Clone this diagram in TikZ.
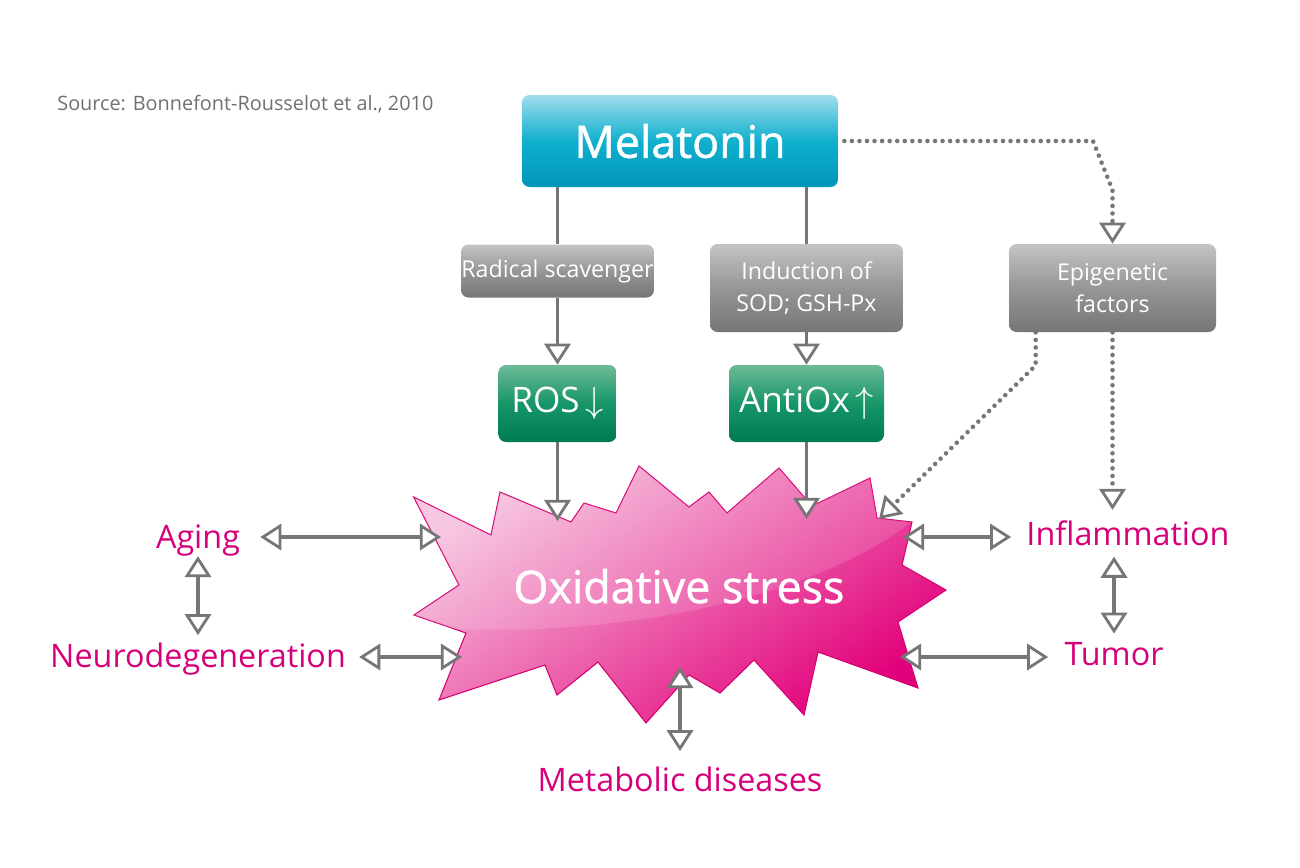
\documentclass[tikz,border=0pt]{standalone}
\usepackage{fontspec}
\setmainfont{Open Sans}
\newfontfamily\heavyfont[FakeBold=1.2]{Open Sans}
\usetikzlibrary{arrows.meta}
\definecolor{melTop}{RGB}{160,220,236}
\definecolor{melMid}{RGB}{16,176,206}
\definecolor{melBot}{RGB}{0,150,186}
\definecolor{grayTop}{RGB}{196,196,196}
\definecolor{grayMid}{RGB}{150,150,150}
\definecolor{grayBot}{RGB}{118,118,118}
\definecolor{greenTop}{RGB}{110,186,152}
\definecolor{greenMid}{RGB}{22,150,104}
\definecolor{greenBot}{RGB}{0,122,80}
\definecolor{starLight}{RGB}{246,190,220}
\definecolor{starDark}{RGB}{226,0,122}
\definecolor{starEdge}{RGB}{214,0,112}
\definecolor{linkgray}{RGB}{118,118,118}
\definecolor{magT}{RGB}{214,0,122}
\definecolor{srcgray}{RGB}{112,112,112}

\def\oxstar{(413.6,497) -- (491,535) -- (500,492) -- (571,522) -- (584,503) -- (616,513)
  -- (639,466) -- (689,507) -- (709,492) -- (727,513) -- (779,468) -- (812,506)
  -- (870,478) -- (877,518) -- (912,522) -- (902,565) -- (946,590) -- (898,622)
  -- (918,688) -- (818,652) -- (804,715) -- (754,660) -- (720,693) -- (689,675)
  -- (646,723) -- (598,662) -- (557,695) -- (545,665) -- (439,700) -- (466,633)
  -- (414,615) -- (459,585) -- cycle}

\begin{document}
\begin{tikzpicture}[x=0.02cm, y=-0.02cm,
  box/.style={rounded corners=0.15cm, text=white, align=center, inner sep=0pt},
  melbox/.style={box, top color=melTop, bottom color=melBot, middle color=melMid,
    minimum width=6.32cm, minimum height=1.84cm, font=\heavyfont\fontsize{25.5}{28}\selectfont},
  graybox/.style={box, top color=grayTop, bottom color=grayBot, middle color=grayMid,
    font=\fontsize{13.2}{18}\selectfont},
  greenbox/.style={box, top color=greenTop, bottom color=greenBot, middle color=greenMid,
    minimum height=1.54cm, font=\fontsize{20}{24}\selectfont},
  lbl/.style={text=magT, inner sep=0pt, anchor=base, font=\fontsize{18.4}{20}\selectfont},
  link/.style={draw=linkgray, line width=2pt},
  dotlink/.style={link, line width=2.6pt, line cap=round, dash pattern=on 0pt off 4.3pt},
  arr/.style={-{Triangle[width=15pt, length=12pt, fill=white, line width=1.6pt]}},
  biarr/.style={{Triangle[width=15pt, length=12pt, fill=white, line width=1.6pt]}-{Triangle[width=15pt, length=12pt, fill=white, line width=1.6pt]}}]
\useasboundingbox (0,0) rectangle (1300,867);

\node[anchor=base west, text=srcgray, inner sep=0pt, font=\fontsize{11.3}{13}\selectfont] (src) at (57,110)
  {Source: Bonnefont-Rousselot et al., 2010};

\node[melbox] (mel) at (680,141) {Melatonin};
\node[graybox, minimum width=3.86cm, minimum height=1.06cm] (rad) at (557.5,271) {Radical scavenger};
\node[graybox, minimum width=3.86cm, minimum height=1.76cm] (ind) at (806.5,288) {Induction of\\SOD; GSH-Px};
\node[graybox, minimum width=4.14cm, minimum height=1.76cm] (epi) at (1112.5,288) {Epigenetic\\factors};
\node[greenbox, minimum width=2.36cm] (ros) at (557.5,403.5) {ROS\,$\downarrow$};
\node[greenbox, minimum width=3.1cm] (anti) at (806.5,403.5) {AntiOx\,$\uparrow$};

\shadedraw[top color=starLight, bottom color=starDark, shading angle=35, draw=starEdge, line width=0.6pt] \oxstar;
\begin{scope}
  \clip \oxstar;
  \fill[white, opacity=0.13] (400,450) -- (400,625) .. controls (600,645) and (820,600) .. (920,515) -- (920,450) -- cycle;
\end{scope}
\node[text=white, anchor=base, font=\heavyfont\fontsize{25.5}{28}\selectfont] (ox) at (679,603) {Oxidative stress};

\node[lbl] (aging) at (198,548) {Aging};
\node[lbl] (neuro) at (198,667) {Neurodegeneration};
\node[lbl] (infl) at (1128,545) {Inflammation};
\node[lbl] (tumor) at (1114,665) {Tumor};
\node[lbl] (metab) at (680,791) {Metabolic diseases};

\coordinate (rosIn) at (557.5,521);
\coordinate (antiIn) at (806.5,519);
\coordinate (epiIn) at (879,519);
\coordinate (agIn) at (441,537);
\coordinate (neIn) at (462,657);
\coordinate (inIn) at (903,537);
\coordinate (tuIn) at (900,657);
\coordinate (meIn) at (680,667);

\foreach \b in {rad,ind}
  \draw[link] (\b.north |- mel.south) -- (\b.north);
\draw[link, arr] (rad) -- (ros);
\draw[link, arr] (ind) -- (anti);
\draw[link, arr] (ros) -- (rosIn);
\draw[link, arr] (anti) -- (antiIn);

\draw[dotlink, arr, shorten <=0.12cm] (mel.east) -- (1093,141) -- (1112.5,190) -- (epi.north);
\draw[dotlink, arr] ([xshift=0.54cm]epi.south west) -- ++(0,33) -- (epiIn);
\draw[dotlink, arr, shorten >=0.2cm] (epi.south) -- (epi.south |- infl.north);

\draw[link, biarr, shorten <=0.4cm] (aging.east |- agIn) -- (agIn);
\draw[link, biarr, shorten <=0.26cm] (neuro.east |- neIn) -- (neIn);
\draw[link, biarr, shorten >=0.14cm] (aging.south) -- (neuro.north);
\draw[link, biarr, shorten >=0.3cm] (inIn) -- (infl.west |- inIn);
\draw[link, biarr, shorten >=0.32cm] (tuIn) -- (tumor.west |- tuIn);
\draw[link, biarr, shorten <=0.22cm, shorten >=0.16cm] (tumor.north |- infl.south) -- (tumor.north);
\draw[link, biarr, shorten >=0.3cm] (meIn) -- (metab.north);
\end{tikzpicture}
\end{document}
